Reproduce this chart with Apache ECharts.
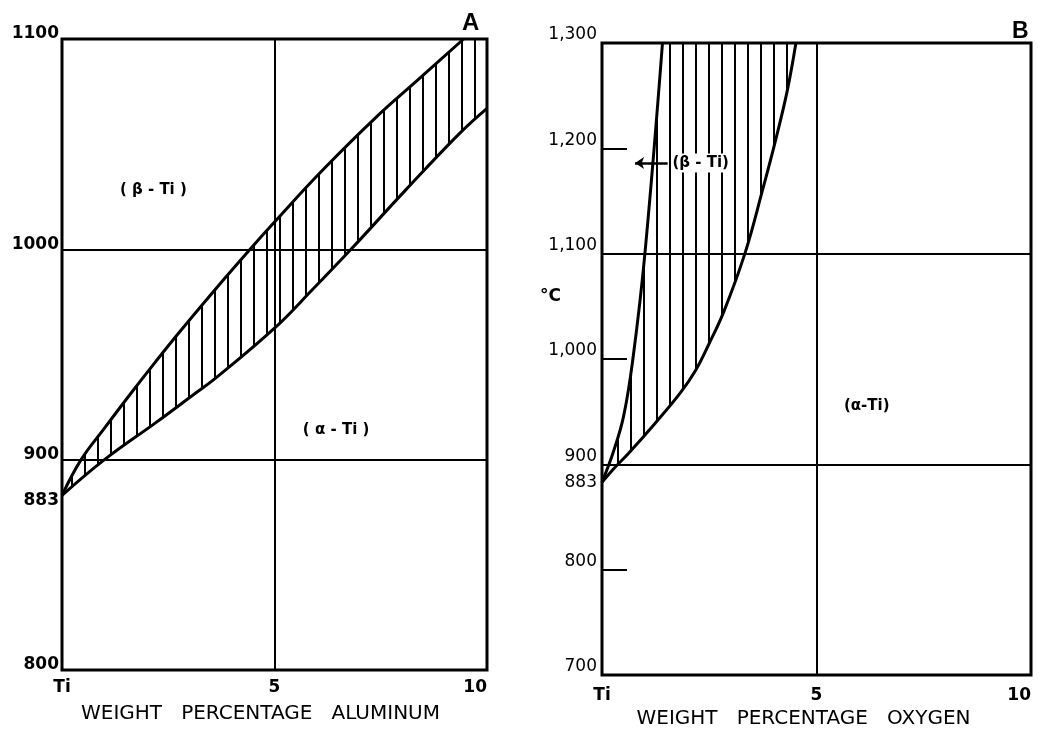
<!DOCTYPE html>
<html><head><meta charset="utf-8">
<script src="https://cdn.jsdelivr.net/npm/echarts@6/dist/echarts.min.js"></script>
<style>html,body{margin:0;padding:0;background:#fff}#c{width:1039px;height:734px}</style>
</head><body><div id="c"></div>
<script>
// ---- Panel A: Ti–Al ----
const alXTicks = [0, 5, 10];
const alYLabels = [800, 883, 900, 1000, 1100];
const alGridY = [900, 1000];
const alGridX = [5];
const alUpper = [[0,883],[0.45,900],[1,915],[1.6,931],[2.2,946.5],[2.8,961.5],[3.8,985.5],[4.4,999.5],[5,1013],[6.1,1037],[7.4,1063],[8.4,1081],[9.45,1100]];
const alLower = [[0,883],[1.0,900],[2.2,917.5],[3.1,931],[3.6,938.5],[5,962.5],[5.9,981],[6.8,1000],[8.1,1028.5],[9.35,1055],[10,1067]];
const alCorner = [[10,1100]];
// ---- Panel B: Ti–O ----
const oxXTicks = [0, 5, 10];
const oxYLabels = [700, 800, 883, 900, 1000, 1100, 1200, 1300];
const oxYShortTicks = [800, 1000, 1200];
const oxGridY = [900, 1100];
const oxGridX = [5];
const oxLeft = [[0,883],[0.25,910],[0.5,945],[0.72,1000],[1.0,1100],[1.41,1300]];
const oxRight = [[0,883],[0.3,897],[0.61,910],[1.24,939],[1.83,968],[2.18,989],[2.49,1014],[2.84,1045],[3.33,1100],[3.74,1160],[4.06,1210],[4.32,1255],[4.52,1300]];
const phaseNames = ['( β - Ti )', '( α - Ti )', '(β - Ti)', '(α-Ti)'];

const FONT = 'DejaVu Sans';

// hatch pattern (vertical lines)
const pc = document.createElement('canvas');
pc.width = 13; pc.height = 10;
const pctx = pc.getContext('2d');
pctx.fillStyle = '#000';
pctx.fillRect(6, 0, 2, 10);
const hatch = { image: pc, repeat: 'repeat' };

function polyRender(pts) {
  return function (params, api) {
    return {
      type: 'polygon',
      shape: { points: pts.map(p => api.coord(p)) },
      style: { fill: hatch, stroke: null }
    };
  };
}

function fmtY(v, comma, lowBump) {
  let s = String(v);
  if (comma && v >= 1000) s = s.slice(0, s.length - 3) + ',' + s.slice(-3);
  if (v === 883) return lowBump ? '{dn|' + s + '}' : '{mid|' + s + '}';
  return '{up|' + s + '}';
}

const richA = {
  up: { fontSize: 17, fontWeight: 'bold', fontFamily: FONT, color: '#000', padding: [0, 0, 10, 0] },
  dn: { fontSize: 17, fontWeight: 'bold', fontFamily: FONT, color: '#000', padding: [10, 0, 0, 0] },
  mid: { fontSize: 17, fontWeight: 'bold', fontFamily: FONT, color: '#000' }
};
const richB = {
  up: { fontSize: 17, fontFamily: FONT, color: '#000', padding: [0, 0, 16, 0] },
  dn: { fontSize: 17, fontFamily: FONT, color: '#000', padding: [2, 0, 0, 0] },
  mid: { fontSize: 17, fontFamily: FONT, color: '#000' }
};

function gridMarks(ys, xs) {
  return {
    silent: true, symbol: ['none', 'none'], animation: false,
    label: { show: false },
    lineStyle: { color: '#000', width: 2, type: 'solid' },
    data: ys.map(v => ({ yAxis: v })).concat(xs.map(v => ({ xAxis: v })))
  };
}

const polyA = alUpper.concat(alCorner, alLower.slice().reverse());
const polyB = oxLeft.concat(oxRight.slice().reverse());

const curveStyle = { color: '#000', width: 3 };
const labelBase = { show: true, position: 'inside', formatter: p => p.name, fontSize: 15, fontWeight: 'bold',
  fontFamily: FONT, color: '#000', textBorderWidth: 0, textBorderColor: 'transparent' };

const option = {
  animation: false,
  backgroundColor: '#fff',
  title: [
    { text: 'A', left: 462, top: 11, padding: 0, textStyle: { fontSize: 24, fontWeight: 'bold', fontFamily: 'Liberation Sans', color: '#000' } },
    { text: 'B', left: 1012, top: 20, padding: 0, textStyle: { fontSize: 23, fontWeight: 'bold', fontFamily: 'Liberation Sans', color: '#000' } },
    { text: '°C', left: 540, top: 288, padding: 0, textStyle: { fontSize: 17, fontWeight: 'bold', fontFamily: FONT, color: '#000' } }
  ],
  grid: [
    { left: 62, top: 39, width: 425, height: 631, show: true, borderColor: '#000', borderWidth: 3,
      backgroundColor: 'transparent', containLabel: false, outerBoundsMode: 'none' },
    { left: 602, top: 43, width: 429, height: 632, show: true, borderColor: '#000', borderWidth: 3,
      backgroundColor: 'transparent', containLabel: false, outerBoundsMode: 'none' }
  ],
  xAxis: [
    {
      gridIndex: 0, type: 'value', min: 0, max: 10, interval: 5,
      axisLine: { show: false }, axisTick: { show: false }, splitLine: { show: false },
      axisLabel: { customValues: alXTicks, margin: 9, fontSize: 17, fontWeight: 'bold', fontFamily: FONT, color: '#000',
        alignMaxLabel: 'right', formatter: v => v === 0 ? 'Ti' : String(v) },
      name: 'WEIGHT   PERCENTAGE   ALUMINUM', nameLocation: 'middle', nameGap: 34,
      nameTextStyle: { fontSize: 20, fontFamily: FONT, color: '#000', padding: [0, 28, 0, 0] }
    },
    {
      gridIndex: 1, type: 'value', min: 0, max: 10, interval: 5,
      axisLine: { show: false }, axisTick: { show: false }, splitLine: { show: false },
      axisLabel: { customValues: oxXTicks, margin: 12, fontSize: 17, fontWeight: 'bold', fontFamily: FONT, color: '#000',
        alignMaxLabel: 'right', formatter: v => v === 0 ? 'Ti' : String(v) },
      name: 'WEIGHT   PERCENTAGE   OXYGEN', nameLocation: 'middle', nameGap: 34,
      nameTextStyle: { fontSize: 20, fontFamily: FONT, color: '#000', padding: [0, 26, 0, 0] }
    }
  ],
  yAxis: [
    {
      gridIndex: 0, type: 'value', min: 800, max: 1100, interval: 100,
      axisLine: { show: false }, axisTick: { show: false }, splitLine: { show: false },
      axisLabel: { customValues: alYLabels, margin: 3, formatter: v => fmtY(v, false, true), rich: richA }
    },
    {
      gridIndex: 1, type: 'value', min: 700, max: 1300, interval: 100,
      axisLine: { show: false }, splitLine: { show: false },
      axisTick: { show: true, customValues: oxYShortTicks, inside: true, length: 25, lineStyle: { color: '#000', width: 2 } },
      axisLabel: { customValues: oxYLabels, margin: 5, formatter: v => fmtY(v, true, false), rich: richB }
    }
  ],
  series: [
    { type: 'custom', xAxisIndex: 0, yAxisIndex: 0, data: [[0, 883]], renderItem: polyRender(polyA), silent: true, z: 1 },
    { type: 'custom', xAxisIndex: 1, yAxisIndex: 1, data: [[0, 883]], renderItem: polyRender(polyB), silent: true, z: 1 },
    { type: 'line', xAxisIndex: 0, yAxisIndex: 0, data: alUpper, smooth: 0.4, symbol: 'none', lineStyle: curveStyle, z: 3,
      markLine: gridMarks(alGridY, alGridX) },
    { type: 'line', xAxisIndex: 0, yAxisIndex: 0, data: alLower, smooth: 0.4, symbol: 'none', lineStyle: curveStyle, z: 3 },
    { type: 'line', xAxisIndex: 1, yAxisIndex: 1, data: oxLeft, smooth: 0.4, symbol: 'none', lineStyle: curveStyle, z: 3,
      markLine: gridMarks(oxGridY, oxGridX) },
    { type: 'line', xAxisIndex: 1, yAxisIndex: 1, data: oxRight, smooth: 0.4, symbol: 'none', lineStyle: curveStyle, z: 3 },
    // arrow in panel B
    { type: 'line', xAxisIndex: 1, yAxisIndex: 1, data: [], z: 4,
      markLine: { silent: true, animation: false, symbol: ['none', 'arrow'], symbolSize: [9, 9], label: { show: false },
        lineStyle: { color: '#000', width: 2.5, type: 'solid', opacity: 1 },
        data: [[{ coord: [1.53, 1186] }, { coord: [0.77, 1186] }]] } },
    // phase labels
    { type: 'scatter', xAxisIndex: 0, yAxisIndex: 0, symbolSize: 0, z: 5, silent: true,
      itemStyle: { opacity: 1, color: '#000' },
      label: labelBase,
      data: [{ name: phaseNames[0], value: [2.15, 1028] }, { name: phaseNames[1], value: [6.45, 914] }] },
    { type: 'scatter', xAxisIndex: 1, yAxisIndex: 1, symbolSize: 0, z: 5, silent: true,
      itemStyle: { opacity: 1, color: '#000' },
      label: Object.assign({}, labelBase, { backgroundColor: '#fff', padding: [2, 1] }),
      data: [{ name: phaseNames[2], value: [2.3, 1186] }, { name: phaseNames[3], value: [6.17, 955] }] }
  ]
};

const chart = echarts.init(document.getElementById('c'), null, { renderer: 'canvas' });
chart.setOption(option);
</script>
</body></html>
